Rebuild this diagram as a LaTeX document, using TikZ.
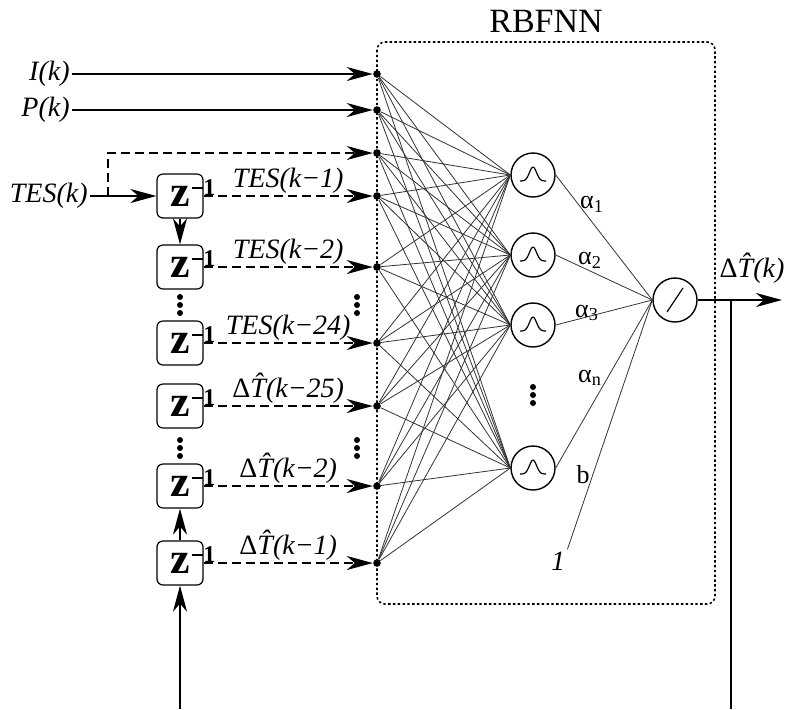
\documentclass[tikz,border=0pt]{standalone}
\usepackage{fontspec}
\setmainfont{Liberation Serif}
\usetikzlibrary{arrows.meta,calc}
\tikzset{>={Stealth[length=13pt,width=7pt,inset=4pt]}}
\tikzset{
  lbl/.style={font=\fontsize{14}{16}\selectfont\itshape, inner sep=1pt},
  wlbl/.style={font=\fontsize{13}{15}\selectfont, inner sep=1pt},
  zbox/.style={draw, rounded corners=3pt, line width=0.6pt, minimum width=23pt,
    minimum height=22pt, inner sep=0pt, font=\fontsize{22}{22}\selectfont\bfseries},
  zsup/.style={font=\fontsize{12}{12}\selectfont\bfseries, inner sep=0pt},
  neuron/.style={draw, circle, line width=0.7pt, minimum size=22pt, inner sep=0pt},
  idot/.style={circle, fill, inner sep=0pt, minimum size=3.8pt},
  wire/.style={line width=1pt},
  tap/.style={wire, dash pattern=on 4.5pt off 2.5pt},
  link/.style={line width=0.4pt, black!80},
  netbox/.style={line width=0.8pt, dash pattern=on 1.2pt off 1.2pt, rounded corners=4pt},
}
\newcommand{\dT}{{\upshape Δ}\^{T}}
\newcommand{\zminus}{\rule[3pt]{5.5pt}{1.1pt}\kern0.3pt}

\begin{document}
\begin{tikzpicture}[x=0.5pt, y=-0.5pt]
  \useasboundingbox (0,0) rectangle (795,709);

  % network frame
  \draw[netbox] (377,42) rectangle (715,604);
  \node[font=\fontsize{17}{17}\selectfont] (title) at (546,21) {RBFNN};

  % input layer dots
  \foreach \y [count=\i] in {74,110,153,196,267,343,406,486,563}
    \node[idot] (i\i) at (377,\y) {};

  % hidden and output neurons
  \foreach \y [count=\j] in {175,255,325,468}
    \node[neuron] (h\j) at (533,\y) {};
  \node[neuron] (o) at (675,300) {};

  % delay boxes
  \foreach \y [count=\k] in {196,267,343,406,486,563} {
    \node[zbox] (z\k) at (180,\y) {z\hspace{2.5pt}};
    \node[zsup] at ([shift={(0pt,-7pt)}]z\k.north east) {\zminus1};
  }

  % external inputs
  \node[lbl, anchor=east] (I) at (72,74) {I(k)};
  \node[lbl, anchor=east] (P) at (72,110) {P(k)};
  \node[lbl, anchor=east] (tes) at (90,196) {TES(k)};
  \coordinate (br) at (108,196);
  \draw[wire,->] (I) -- (i1);
  \draw[wire,->] (P) -- (i2);
  \draw[wire,->] (tes) -- (z1.west);
  \draw[tap,->] (br) |- (i3);

  % delay chain
  \draw[wire,->] (z1) -- (z2);
  \draw[wire,->] (z6) -- (z5);
  \coordinate (zin) at (180,709);
  \draw[wire,->] (zin) -- (z6);

  % delayed signals
  \draw[tap,->] (z1.east) -- (i4) node[midway, above, lbl] {TES(k−1)};
  \draw[tap,->] (z2.east) -- (i5) node[midway, above, lbl] {TES(k−2)};
  \draw[tap,->] (z3.east) -- (i6) node[midway, above, lbl] {TES(k−24)};
  \draw[tap,->] (z4.east) -- (i7) node[midway, above, lbl] {\dT(k−25)};
  \draw[tap,->] (z5.east) -- (i8) node[midway, above, lbl] {\dT(k−2)};
  \draw[tap,->] (z6.east) -- (i9) node[midway, above, lbl] {\dT(k−1)};

  % vertical ellipses
  \foreach \p in {{180,305},{180,448},{357,305},{357,448},{533,395}}
    \foreach \d in {-8,0,8}
      \fill ($(\p)+(0,\d)$) circle (1.5pt);

  % full connections input -> hidden
  \foreach \i in {1,...,9}
    \foreach \j in {1,...,4}
      \draw[link] (i\i) -- (h\j.west);

  % hidden -> output
  \foreach \j in {1,...,4}
    \draw[link] (h\j.east) -- (o.west);
  \node[lbl] (one) at (558,561) {1};
  \draw[link] (one.north east) -- (o.west);

  % weights
  \node[wlbl] (a1) at (592,204) {α\textsubscript{1}};
  \node[wlbl] (a2) at (590,260) {α\textsubscript{2}};
  \node[wlbl] (a3) at (587,313) {α\textsubscript{3}};
  \node[wlbl] (an) at (590,378) {α\textsubscript{n}};
  \node[wlbl] (bb) at (583,475) {b};

  % activation glyphs
  \foreach \j in {1,...,4}
    \draw[line width=0.6pt, shift={(h\j)}]
      plot[domain=-13:13, samples=30, smooth] (\x, {6-14*exp(-(\x/5)^2)});
  \draw[line width=0.6pt, shift={(o)}] (-8,12) -- (8,-12);

  % output and feedback
  \coordinate (out) at (782,300);
  \coordinate (fb) at (731,300);
  \coordinate (fbend) at (731,709);
  \draw[wire,->] (o.east) -- (out);
  \draw[wire] (fb) -- (fbend);
  \node[lbl] (yhat) at (752,268) {\dT(k)};
\end{tikzpicture}
\end{document}
